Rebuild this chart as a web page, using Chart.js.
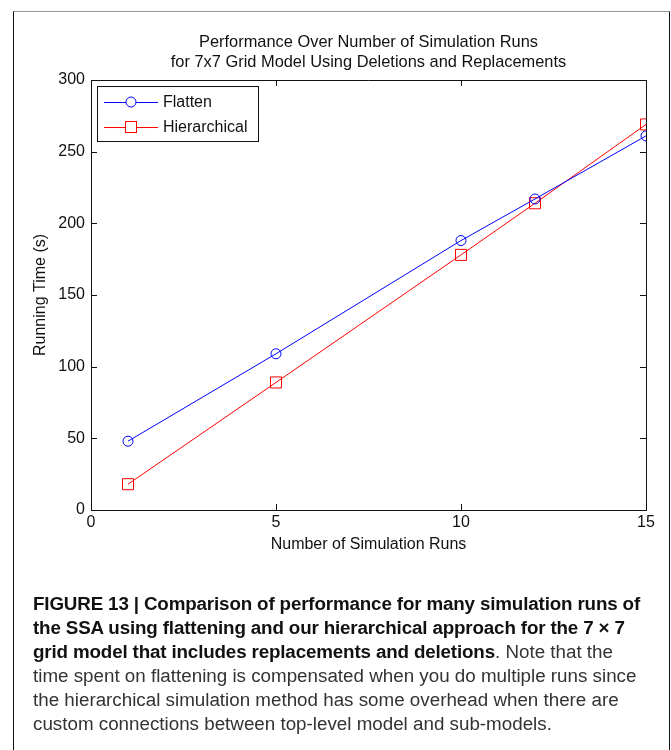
<!DOCTYPE html>
<html>
<head>
<meta charset="utf-8">
<script src="https://cdn.jsdelivr.net/npm/chart.js@4"></script>
<style>
  html, body { margin: 0; padding: 0; background: #fff; }
  body { width: 671px; height: 750px; position: relative; overflow: hidden; }
  #frame {
    position: absolute; left: 13px; top: 11px; width: 655px; height: 760px;
    border-left: 1.5px solid #111; border-right: 1.5px solid #111; border-top: 1px solid #999;
    pointer-events: none;
  }
  #chartBox { position: absolute; left: 0; top: 0; width: 671px; height: 570px; }
  #caption {
    position: absolute; left: 33px; top: 592px;
    font-family: "Liberation Sans", Arial, sans-serif; font-size: 18.8px; line-height: 24px;
    color: #333; white-space: nowrap;
  }
  #caption b { color: #111; letter-spacing: -0.15px; }
</style>
</head>
<body>
<div id="chartBox"><canvas id="perfChart" width="671" height="570"></canvas></div>
<div id="frame"></div>
<div id="caption">
  <b>FIGURE 13 | Comparison of performance for many simulation runs of<br>
  the SSA using flattening and our hierarchical approach for the 7 × 7<br>
  grid model that includes replacements and deletions</b>. Note that the<br>
  time spent on flattening is compensated when you do multiple runs since<br>
  the hierarchical simulation method has some overhead when there are<br>
  custom connections between top-level model and sub-models.
</div>
<script>
const runs = [1, 5, 10, 12, 15];
const flattenTimes = [48, 109, 188, 217, 261];
const hierarchicalTimes = [18, 89, 178, 214, 269];
const titleLines = ["Performance Over Number of Simulation Runs", "for 7x7 Grid Model Using Deletions and Replacements"];

const font = "'Liberation Sans', Arial, sans-serif";

function toPoints(ys) {
  return runs.map((x, i) => ({ x, y: ys[i] }));
}

// matlab-style box: top/right edges plus inward tick marks on all sides
const boxTicks = {
  id: "boxTicks",
  afterDraw(c) {
    const { ctx, chartArea: a, scales } = c;
    const len = 6;
    ctx.save();
    ctx.strokeStyle = "#111";
    ctx.lineWidth = 1;
    ctx.beginPath();
    ctx.moveTo(a.left, a.top + 0.5);
    ctx.lineTo(a.right + 0.5, a.top + 0.5);
    ctx.lineTo(a.right + 0.5, a.bottom);
    scales.x.ticks.forEach((t) => {
      const px = Math.round(scales.x.getPixelForValue(t.value)) + 0.5;
      ctx.moveTo(px, a.bottom); ctx.lineTo(px, a.bottom - len);
      ctx.moveTo(px, a.top); ctx.lineTo(px, a.top + len);
    });
    scales.y.ticks.forEach((t) => {
      const py = Math.round(scales.y.getPixelForValue(t.value)) + 0.5;
      ctx.moveTo(a.left, py); ctx.lineTo(a.left + len, py);
      ctx.moveTo(a.right, py); ctx.lineTo(a.right - len, py);
    });
    ctx.stroke();
    ctx.restore();
  },
};

// legend box drawn inside the plot, top-left corner
const insideLegend = {
  id: "insideLegend",
  afterDraw(c) {
    const { ctx, chartArea: a } = c;
    const x0 = a.left + 6, y0 = a.top + 6, w = 161, h = 55;
    ctx.save();
    ctx.fillStyle = "#fff";
    ctx.fillRect(x0, y0, w, h);
    ctx.strokeStyle = "#111";
    ctx.lineWidth = 1;
    ctx.strokeRect(x0 + 0.5, y0 + 0.5, w, h);
    ctx.font = "16px " + font;
    ctx.textBaseline = "middle";
    c.data.datasets.forEach((ds, i) => {
      const cy = y0 + 16 + i * 25;
      ctx.strokeStyle = ds.borderColor;
      ctx.beginPath();
      ctx.moveTo(x0 + 7, cy + 0.5);
      ctx.lineTo(x0 + 61, cy + 0.5);
      ctx.stroke();
      const cx = x0 + 34;
      if (ds.pointStyle === "circle") {
        ctx.beginPath();
        ctx.arc(cx, cy, 5, 0, Math.PI * 2);
        ctx.fillStyle = "#fff";
        ctx.fill();
        ctx.stroke();
      } else {
        ctx.fillStyle = "#fff";
        ctx.fillRect(cx - 5.5, cy - 5.5, 11, 11);
        ctx.strokeRect(cx - 5.5, cy - 5.5, 11, 11);
      }
      ctx.fillStyle = "#111";
      ctx.fillText(ds.label, x0 + 66, cy + 1);
    });
    ctx.restore();
  },
};

new Chart(document.getElementById("perfChart"), {
  type: "line",
  data: {
    datasets: [
      {
        label: "Flatten",
        data: toPoints(flattenTimes),
        borderColor: "#0000ff",
        borderWidth: 1,
        pointStyle: "circle",
        pointRadius: 5,
        pointBorderWidth: 1,
        pointBackgroundColor: "rgba(0,0,0,0)",
        pointBorderColor: "#0000ff",
        tension: 0,
      },
      {
        label: "Hierarchical",
        data: toPoints(hierarchicalTimes),
        borderColor: "#ff0000",
        borderWidth: 1,
        pointStyle: "rect",
        pointRadius: 7.8,
        pointBorderWidth: 1,
        pointBackgroundColor: "rgba(0,0,0,0)",
        pointBorderColor: "#ff0000",
        tension: 0,
      },
    ],
  },
  options: {
    responsive: false,
    animation: false,
    layout: { padding: { left: 0, right: 25, top: 0, bottom: 0 } },
    plugins: {
      legend: { display: false },
      tooltip: { enabled: false },
      title: {
        display: true,
        fullSize: false,
        text: titleLines,
        color: "#111",
        font: { family: font, size: 16.4, weight: "normal", lineHeight: 1.22 },
        padding: { top: 32, bottom: 8 },
      },
    },
    scales: {
      x: {
        type: "linear",
        min: 0,
        max: 15,
        ticks: { stepSize: 5, color: "#111", padding: 3, font: { family: font, size: 16 } },
        grid: { display: false, drawTicks: false },
        border: { display: true, color: "#111", width: 1 },
        title: { display: true, text: "Number of Simulation Runs", color: "#111", font: { family: font, size: 16 }, padding: { top: 15.4, bottom: 15.4 } },
        afterFit(s) { s.height = 60; },
      },
      y: {
        min: 0,
        max: 300,
        ticks: { stepSize: 50, color: "#111", padding: 6, font: { family: font, size: 16 } },
        grid: { display: false, drawTicks: false },
        border: { display: true, color: "#111", width: 1 },
        title: { display: true, text: "Running Time (s)", color: "#111", font: { family: font, size: 16 }, padding: { top: 31 } },
        afterFit(s) { s.width = 91; },
      },
    },
  },
  plugins: [boxTicks, insideLegend],
});
</script>
</body>
</html>
